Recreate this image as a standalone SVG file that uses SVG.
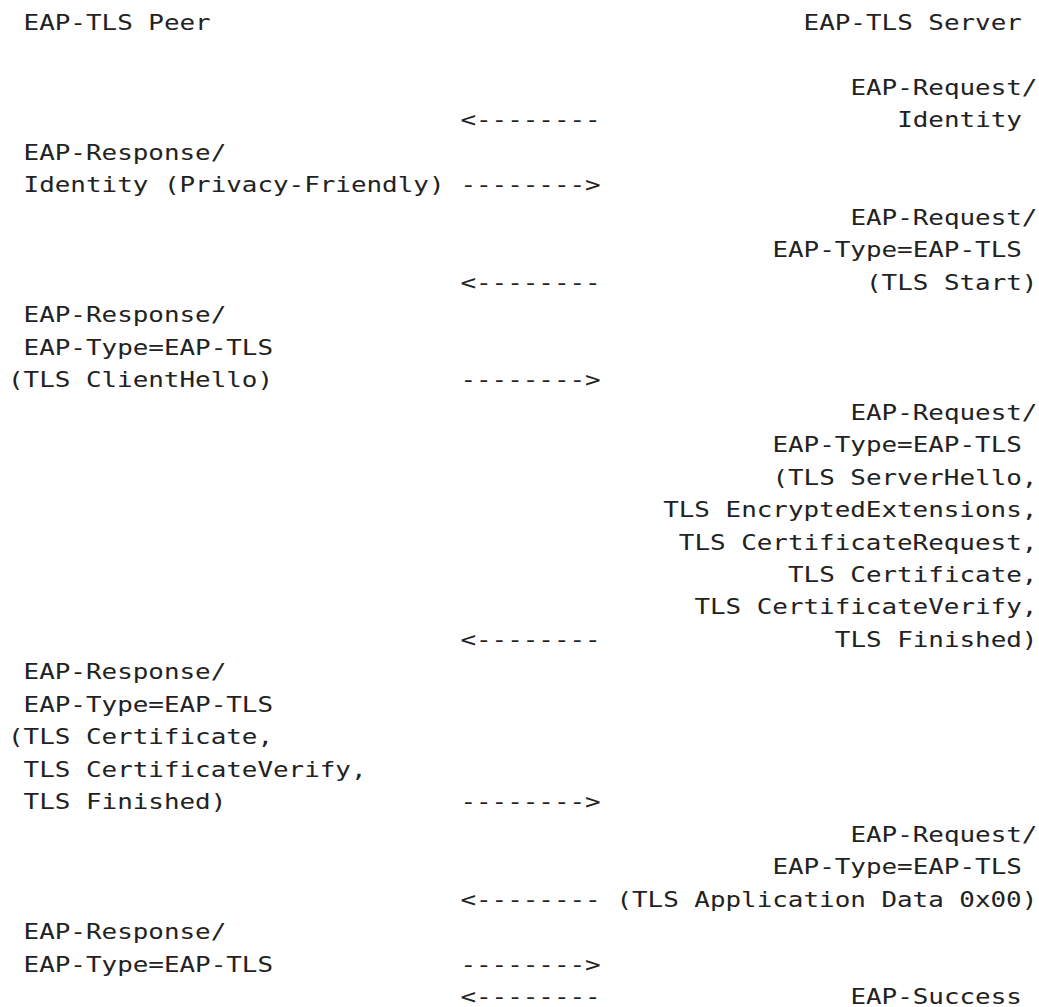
<svg xmlns="http://www.w3.org/2000/svg" width="1039" height="1007" viewBox="0 0 1039 1007">
<style>
text { font-family: "DejaVu Sans Mono", "Liberation Mono", monospace; font-size: 22px; fill: #222222; white-space: pre; }
</style>
<rect width="1039" height="1007" fill="#ffffff"/>
<g transform="scale(1.1779,1)">
  <g id="peer-header"><text x="20.04" y="30">EAP-TLS Peer</text></g>
  <g id="server-header"><text x="682.24" y="30">EAP-TLS Server</text></g>

  <g id="msg1-request-identity">
    <text x="721.97" y="94.94">EAP-Request/</text>
    <text x="761.70" y="127.41">Identity</text>
  </g>
  <g id="msg2-response-identity">
    <text x="20.04" y="159.88">EAP-Response/</text>
    <text x="20.04" y="192.35">Identity (Privacy-Friendly)</text>
  </g>
  <g id="msg3-tls-start">
    <text x="721.97" y="224.82">EAP-Request/</text>
    <text x="655.75" y="257.29">EAP-Type=EAP-TLS</text>
    <text x="735.21" y="289.76">(TLS Start)</text>
  </g>
  <g id="msg4-client-hello">
    <text x="20.04" y="322.23">EAP-Response/</text>
    <text x="20.04" y="354.70">EAP-Type=EAP-TLS</text>
    <text x="6.79" y="387.17">(TLS ClientHello)</text>
  </g>
  <g id="msg5-server-hello">
    <text x="721.97" y="419.64">EAP-Request/</text>
    <text x="655.75" y="452.11">EAP-Type=EAP-TLS</text>
    <text x="655.75" y="484.58">(TLS ServerHello,</text>
    <text x="563.04" y="517.05">TLS EncryptedExtensions,</text>
    <text x="576.28" y="549.52">TLS CertificateRequest,</text>
    <text x="668.99" y="581.99">TLS Certificate,</text>
    <text x="589.53" y="614.46">TLS CertificateVerify,</text>
    <text x="708.72" y="646.93">TLS Finished)</text>
  </g>
  <g id="msg6-client-certificate">
    <text x="20.04" y="679.40">EAP-Response/</text>
    <text x="20.04" y="711.87">EAP-Type=EAP-TLS</text>
    <text x="6.79" y="744.34">(TLS Certificate,</text>
    <text x="20.04" y="776.81">TLS CertificateVerify,</text>
    <text x="20.04" y="809.28">TLS Finished)</text>
  </g>
  <g id="msg7-application-data">
    <text x="721.97" y="841.75">EAP-Request/</text>
    <text x="655.75" y="874.22">EAP-Type=EAP-TLS</text>
    <text x="523.31" y="906.69">(TLS Application Data 0x00)</text>
  </g>
  <g id="msg8-response">
    <text x="20.04" y="939.16">EAP-Response/</text>
    <text x="20.04" y="971.63">EAP-Type=EAP-TLS</text>
  </g>
  <g id="msg9-success">
    <text x="721.97" y="1004.10">EAP-Success</text>
  </g>

  <g id="connectors">
    <text x="390.87" y="127.41">&lt;--------</text>
    <text x="390.87" y="192.35">--------&gt;</text>
    <text x="390.87" y="289.76">&lt;--------</text>
    <text x="390.87" y="387.17">--------&gt;</text>
    <text x="390.87" y="646.93">&lt;--------</text>
    <text x="390.87" y="809.28">--------&gt;</text>
    <text x="390.87" y="906.69">&lt;--------</text>
    <text x="390.87" y="971.63">--------&gt;</text>
    <text x="390.87" y="1004.10">&lt;--------</text>
  </g>
</g>
</svg>
